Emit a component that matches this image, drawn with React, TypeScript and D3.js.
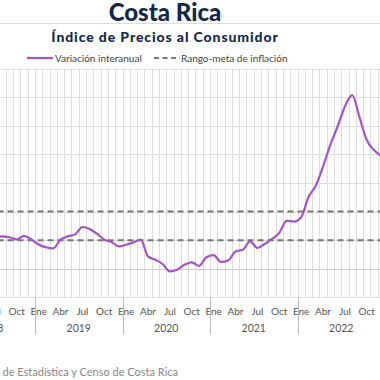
import React from "react";
import * as d3 from "d3";

// Data: Costa Rica CPI, year-on-year change (%), monthly from Jul 2018 to Dec 2022
const startYear = 2018;
const startMonth = 6; // July (0-based)
const inflation: number[] = [
  // 2018 Jul-Dec
  2.1, 2.26, 2.2, 2.05, 2.3, 2.05,
  // 2019
  1.7, 1.5, 1.42, 2.03, 2.26, 2.4, 2.92, 2.78, 2.45, 2.03, 1.87, 1.56,
  // 2020
  1.68, 1.84, 2.03, 0.86, 0.63, 0.33, -0.19, -0.07, 0.28, 0.45, 0.2, 0.8,
  // 2021
  0.95, 0.48, 0.58, 1.2, 1.32, 1.91, 1.45, 1.73, 2.08, 2.5, 3.35, 3.3,
  // 2022
  3.6, 5.0, 5.8, 7.15, 8.67, 9.95, 11.35, 12.15, 10.6, 9.0, 8.3, 7.88,
];
const targetRange: number[] = [2, 4];
const years: number[] = [2018, 2019, 2020, 2021, 2022];
const monthLabels: string[] = ["Ene", "Abr", "Jul", "Oct"];
const monthLabelIdx: number[] = [0, 3, 6, 9];
const yTicks: number[] = [-2, 0, 2, 4, 6, 8, 10, 12, 14];

const W = 380;
const H = 380;
const navy = "#15284a";
const purple = "#a653c8";
const font = "Lato, 'Open Sans', sans-serif";

export default function App() {
  // month index from Jan 2018 (band start) -> pixel
  const x = d3.scaleLinear().domain([0, 60]).range([-52.5, 385]);
  const y = d3.scaleLinear().domain([-2, 14]).range([297.3, 68.6]);
  const plotTop = y(14);
  const plotBottom = y(-2);

  const pts = inflation.map((v, i) => {
    const m = (startYear - 2018) * 12 + startMonth + i;
    return [x(m + 0.5), y(v)] as [number, number];
  });
  const line = d3.line().curve(d3.curveMonotoneX)(pts) || "";

  const monthBoundaries = d3.range(0, 61);

  return (
    <svg
      width={W}
      height={H}
      style={{ position: "fixed", left: 0, top: 0, background: "#fff" }}
      fontFamily={font}
    >
      <rect width={W} height={H} fill="#fff" />
      {/* Title */}
      <text x={165} y={21} textAnchor="middle" fontSize={24} fontWeight={900} fill={navy}>
        Costa Rica
      </text>
      <line x1={0} x2={W} y1={23.5} y2={23.5} stroke="#dcdcdc" strokeWidth={1} />
      <text
        x={165}
        y={42}
        textAnchor="middle"
        fontSize={14}
        fontWeight={900}
        letterSpacing={0.9}
        fill={navy}
      >
        Índice de Precios al Consumidor
      </text>

      {/* Legend */}
      <line x1={27} x2={53} y1={58} y2={58} stroke={purple} strokeWidth={2.2} />
      <text x={55} y={61.5} fontSize={10} fill="#444">
        Variación interanual
      </text>
      <line x1={154} x2={180} y1={58} y2={58} stroke="#777" strokeWidth={2} strokeDasharray="5,3.5" />
      <text x={181} y={61.5} fontSize={10} fill="#444">
        Rango-meta de inflación
      </text>

      {/* Grid */}
      <g>
        {monthBoundaries.map((m) => (
          <line
            key={"v" + m}
            x1={Math.round(x(m)) + 0.5}
            x2={Math.round(x(m)) + 0.5}
            y1={plotTop}
            y2={plotBottom}
            stroke="#dedede"
            strokeWidth={1}
          />
        ))}
        {yTicks.map((t) => (
          <line
            key={"h" + t}
            x1={x(0)}
            x2={W}
            y1={Math.round(y(t)) + 0.5}
            y2={Math.round(y(t)) + 0.5}
            stroke={t === 0 ? "#cfcfcf" : "#dedede"}
            strokeWidth={1}
          />
        ))}
      </g>

      {/* Target range */}
      {targetRange.map((t) => (
        <line
          key={"t" + t}
          x1={x(0)}
          x2={W}
          y1={y(t)}
          y2={y(t)}
          stroke="#777"
          strokeWidth={2}
          strokeDasharray="6,4"
        />
      ))}

      {/* Series */}
      <path d={line} fill="none" stroke={purple} strokeWidth={2.2} strokeLinejoin="round" />

      {/* X axis */}
      <g fontSize={10} fill="#555">
        {years.map((yr, yi) => (
          <g key={yr}>
            {monthLabels.map((lab, li) => {
              const m = yi * 12 + monthLabelIdx[li];
              return (
                <text key={lab} x={x(m + 0.5)} y={315} textAnchor="middle">
                  {lab}
                </text>
              );
            })}
            <text x={x(yi * 12 + 6)} y={332} textAnchor="middle" fontSize={10.5}>
              {yr}
            </text>
            <line
              x1={Math.round(x(yi * 12)) + 0.5}
              x2={Math.round(x(yi * 12)) + 0.5}
              y1={plotBottom}
              y2={334}
              stroke="#bbb"
              strokeWidth={1}
            />
          </g>
        ))}
      </g>

      {/* Source */}
      <text x={178} y={376} textAnchor="end" fontSize={11} fill="#888">
        Fuente: Instituto Nacional de Estadística y Censo de Costa Rica
      </text>
    </svg>
  );
}
